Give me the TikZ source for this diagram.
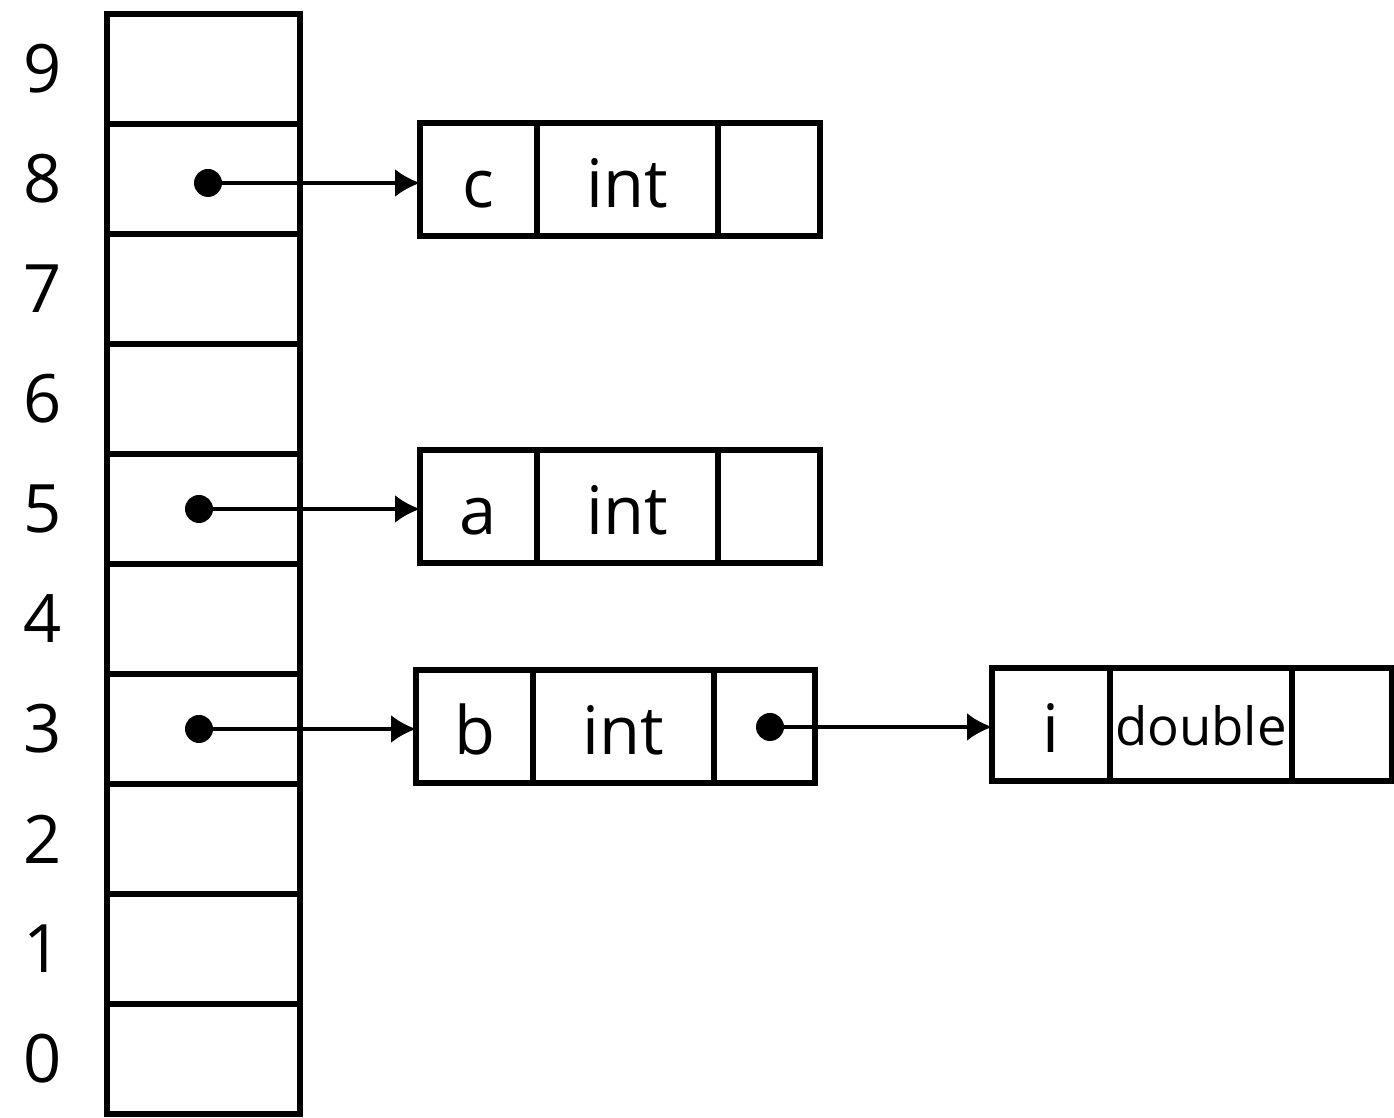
\documentclass[tikz,border=0pt]{standalone}
\usepackage{fontspec}
\setmainfont{Open Sans}
\usetikzlibrary{arrows.meta}

\begin{document}
\begin{tikzpicture}[
        slot/.style={draw=black, line width=1.6pt, minimum width=1.93cm, minimum height=1.10cm, inner sep=0pt, outer sep=0pt},
        field/.style={draw=black, line width=1.6pt, minimum height=1.13cm, inner sep=0pt, outer sep=0pt, anchor=west, text height=16pt, text depth=0pt, font=\fontsize{19}{19}\selectfont},
        idx/.style={font=\fontsize{19}{19}\selectfont},
        dot/.style={circle, fill=black, minimum size=0.28cm, inner sep=0pt},
        link/.style={line width=1pt, -{Latex[length=0.25cm, width=0.28cm]}}
    ]
        \useasboundingbox (0, 0) rectangle (13.94, 11.18);

        % memory column with its addresses
        \foreach \i in {0,...,9} {
            \node (slot\i) at (2.035, 0.59 + 1.1*\i)[slot] {};
            \node (idx\i) at (0.43, 0.59 + 1.1*\i)[idx] {\i};
        }

        \begin{scope}[shift={(4.20, 9.385)}]
            \node (c1) at (0, 0)[field, minimum width=1.17cm] {c};
            \node (c2) at (c1.east)[field, minimum width=1.81cm] {int};
            \node (c3) at (c2.east)[field, minimum width=1.02cm] {};
        \end{scope}

        \begin{scope}[shift={(4.20, 6.115)}]
            \node (a1) at (0, 0)[field, minimum width=1.17cm] {a};
            \node (a2) at (a1.east)[field, minimum width=1.81cm] {int};
            \node (a3) at (a2.east)[field, minimum width=1.02cm] {};
        \end{scope}

        \begin{scope}[shift={(4.16, 3.915)}]
            \node (b1) at (0, 0)[field, minimum width=1.17cm] {b};
            \node (b2) at (b1.east)[field, minimum width=1.81cm] {int};
            \node (b3) at (b2.east)[field, minimum width=1.01cm] {};
        \end{scope}

        \begin{scope}[shift={(9.92, 3.935)}]
            \node (i1) at (0, 0)[field, minimum width=1.18cm] {i};
            \node (i2) at (i1.east)[field, minimum width=1.82cm, text height=12pt, font=\fontsize{15}{15}\selectfont] {double};
            \node (i3) at (i2.east)[field, minimum width=1.00cm] {};
        \end{scope}

        % pointers
        \node (p8) at (2.08, 9.35)[dot] {};
        \node (p5) at (1.99, 6.09)[dot] {};
        \node (p3) at (1.99, 3.89)[dot] {};
        \node (pb) at (7.70, 3.91)[dot] {};

        \draw[link] (p8.center) -- (p8.center -| c1.west);
        \draw[link] (p5.center) -- (p5.center -| a1.west);
        \draw[link] (p3.center) -- (p3.center -| b1.west);
        \draw[link] (pb.center) -- (pb.center -| i1.west);
    \end{tikzpicture}
\end{document}
